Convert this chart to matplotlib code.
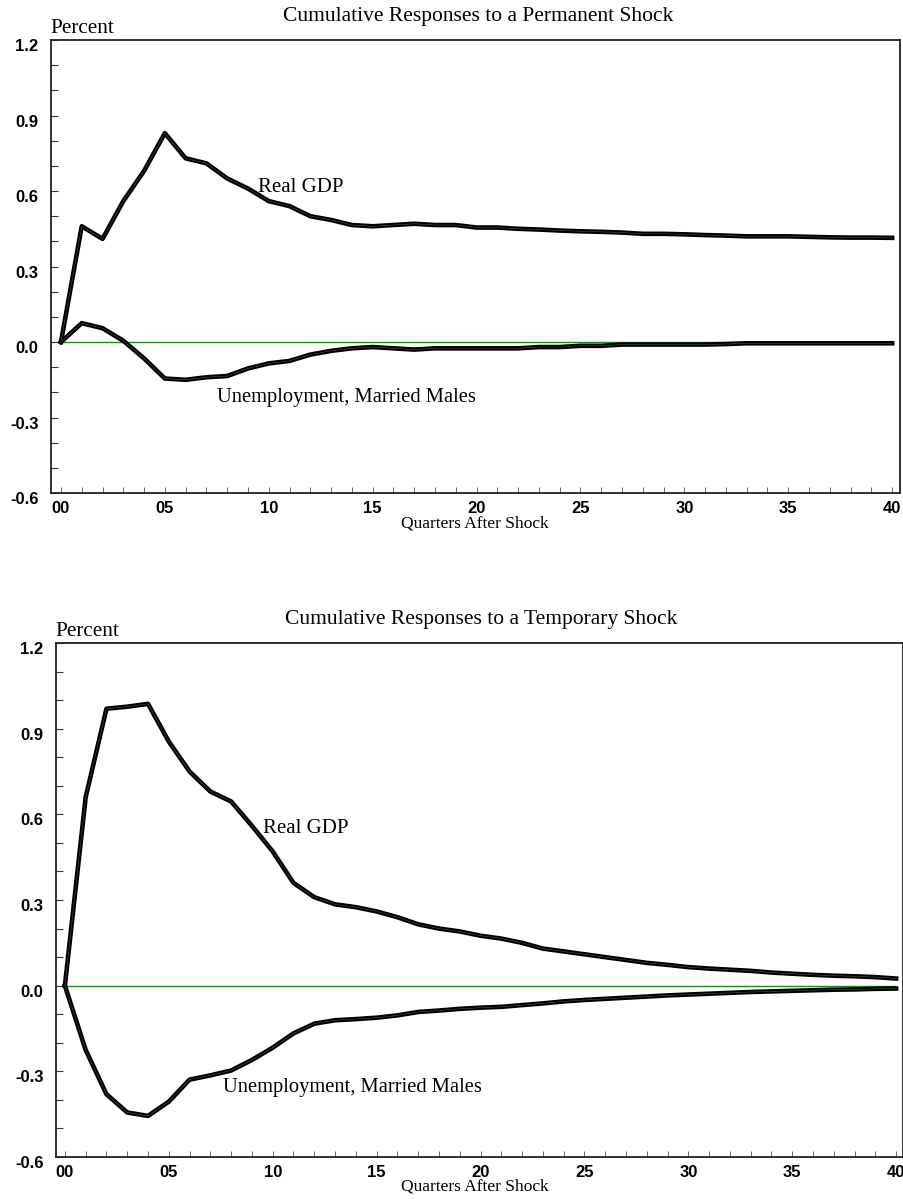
import matplotlib
matplotlib.use('Agg')
import matplotlib.pyplot as plt
import matplotlib.transforms as mtransforms
from matplotlib.ticker import MultipleLocator, FixedLocator

quarters = list(range(41))

perm_gdp = [0.0, 0.46, 0.41, 0.56, 0.68, 0.83, 0.73, 0.71, 0.65, 0.61, 0.56,
            0.54, 0.50, 0.485, 0.465, 0.46, 0.465, 0.47, 0.465, 0.465, 0.455,
            0.455, 0.45, 0.447, 0.443, 0.44, 0.438, 0.435, 0.43, 0.43, 0.428,
            0.425, 0.423, 0.42, 0.42, 0.42, 0.418, 0.416, 0.415, 0.415, 0.414]
perm_unemp = [0.0, 0.075, 0.055, 0.005, -0.065, -0.145, -0.15, -0.14, -0.135, -0.105, -0.085,
              -0.075, -0.05, -0.035, -0.025, -0.02, -0.025, -0.03, -0.025, -0.025, -0.025,
              -0.025, -0.025, -0.02, -0.02, -0.015, -0.015, -0.01, -0.01, -0.01, -0.01,
              -0.01, -0.008, -0.005, -0.005, -0.005, -0.005, -0.005, -0.005, -0.005, -0.005]

temp_gdp = [0.0, 0.66, 0.97, 0.977, 0.987, 0.855, 0.75, 0.68, 0.645, 0.56, 0.47,
            0.36, 0.31, 0.285, 0.275, 0.26, 0.24, 0.215, 0.20, 0.19, 0.175,
            0.165, 0.15, 0.13, 0.12, 0.11, 0.10, 0.09, 0.08, 0.073, 0.065,
            0.06, 0.056, 0.052, 0.046, 0.042, 0.038, 0.035, 0.033, 0.03, 0.025]
temp_unemp = [0.0, -0.225, -0.38, -0.444, -0.456, -0.406, -0.329, -0.314, -0.297, -0.26, -0.217,
              -0.167, -0.133, -0.121, -0.117, -0.112, -0.104, -0.092, -0.087, -0.081, -0.077,
              -0.074, -0.068, -0.062, -0.055, -0.05, -0.046, -0.042, -0.038, -0.034, -0.031,
              -0.028, -0.025, -0.022, -0.02, -0.018, -0.016, -0.014, -0.013, -0.011, -0.01]

xticks = [0, 5, 10, 15, 20, 25, 30, 35, 40]
xtick_labels = ['00', '05', '10', '15', '20', '25', '30', '35', '40']
yticks = [-0.6, -0.3, 0.0, 0.3, 0.6, 0.9, 1.2]
ytick_labels = ['-0.6', '-0.3', '0.0', '0.3', '0.6', '0.9', '1.2']

panels = [
    dict(title='Cumulative Responses to a Permanent Shock', gdp=perm_gdp, unemp=perm_unemp,
         rect=[0.0564, 0.5888, 0.9392, 0.3778], xlim=(-0.48, 40.38),
         title_xy=(0.529, 0.9862), xlab_y=0.5630,
         gdp_lab=(9.5, 0.615), un_lab=(7.5, -0.22)),
    dict(title='Cumulative Responses to a Temporary Shock', gdp=temp_gdp, unemp=temp_unemp,
         rect=[0.0619, 0.0350, 0.9370, 0.4287], xlim=(-0.43, 40.33),
         title_xy=(0.532, 0.4832), xlab_y=0.0105,
         gdp_lab=(9.55, 0.55), un_lab=(7.6, -0.355)),
]

serif = 'Liberation Serif'
sans = 'Liberation Sans'

fig = plt.figure(figsize=(9.04, 11.99), dpi=100)
shift_down = mtransforms.ScaledTranslation(0, -5 / 100, fig.dpi_scale_trans)

for p in panels:
    ax = fig.add_axes(p['rect'])
    # zero line only spans the plotted horizon
    ax.hlines(0, quarters[0], quarters[-1], color='#1a8a1a', lw=1.0, zorder=1)
    for series in (p['gdp'], p['unemp']):
        ax.plot(quarters, series, color='black', lw=3.3, zorder=3)
        ax.plot(quarters, series, color='#4a4a4a', lw=0.4, zorder=4)
    ax.set_xlim(*p['xlim'])
    ax.set_ylim(-0.6, 1.2)
    ax.xaxis.set_major_locator(FixedLocator(xticks))
    ax.set_xticklabels(xtick_labels, fontfamily=sans, fontweight='bold', fontsize=12)
    ax.xaxis.set_minor_locator(MultipleLocator(1))
    ax.yaxis.set_major_locator(FixedLocator(yticks))
    ax.set_yticklabels(ytick_labels, fontfamily=sans, fontweight='bold', fontsize=12)
    ax.yaxis.set_minor_locator(MultipleLocator(0.1))
    ax.tick_params(axis='x', which='both', direction='in', length=4, width=0.6,
                   color='#555555', pad=6)
    ax.tick_params(axis='y', which='both', direction='in', length=5, width=0.8,
                   color='#333333', pad=9)
    for lab in ax.get_yticklabels():
        lab.set_transform(lab.get_transform() + shift_down)
    for s in ax.spines.values():
        s.set_linewidth(1.3)
        s.set_color('#222222')
    fig.text(*p['title_xy'], p['title'], fontfamily=serif, fontsize=15.5,
             ha='center', va='center')
    ax.text(-0.001, 1.004, 'Percent', transform=ax.transAxes, fontfamily=serif,
            fontsize=15.3, ha='left', va='bottom')
    fig.text(0.525, p['xlab_y'], 'Quarters After Shock', fontfamily=serif,
             fontsize=12.5, ha='center', va='center')
    ax.text(*p['gdp_lab'], 'Real GDP', fontfamily=serif, fontsize=15,
            ha='left', va='center', zorder=5)
    ax.text(*p['un_lab'], 'Unemployment, Married Males', fontfamily=serif,
            fontsize=14.8, ha='left', va='center', zorder=5)

fig.savefig('out.png', dpi=100)
